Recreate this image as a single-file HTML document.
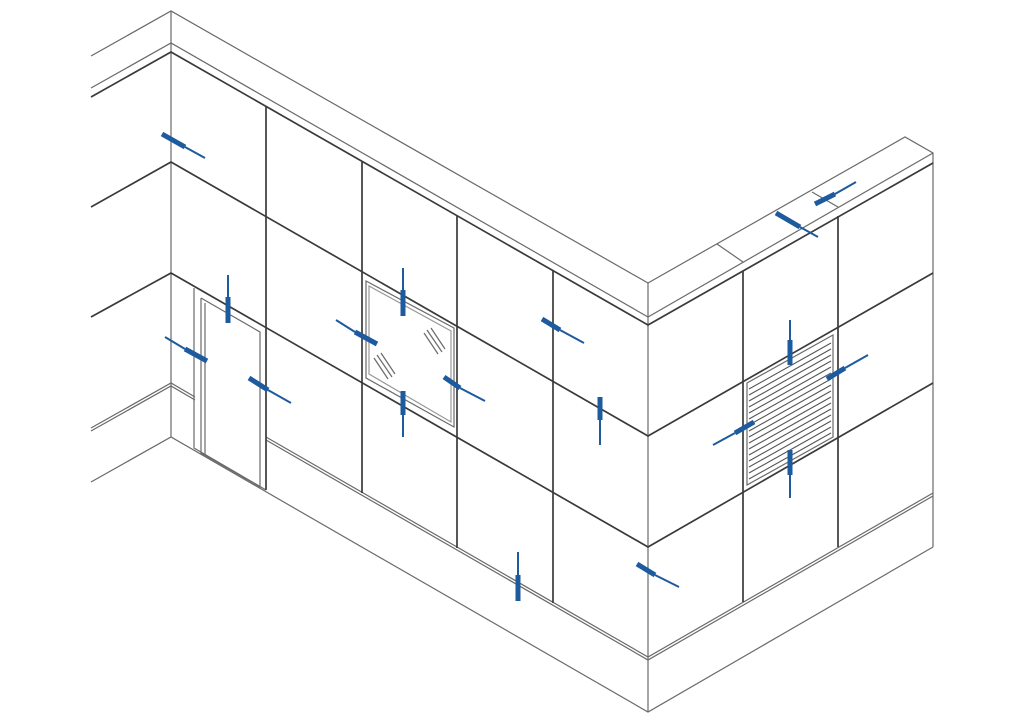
<!DOCTYPE html>
<html><head><meta charset="utf-8"><style>html,body{margin:0;padding:0;background:#fff}svg{display:block}</style></head>
<body>
<svg width="1024" height="722" viewBox="0 0 1024 722" xmlns="http://www.w3.org/2000/svg" fill="none" stroke-linecap="butt">
<g stroke="#6a6a6a" stroke-width="1.2">
  <polyline points="91,56 171,11 648,283"/>
  <polyline points="91,88 171,43 648,317"/>
  <polyline points="648,283 905,137 933,153 933,547"/>
  <line x1="648" y1="317" x2="933" y2="153"/>
  <line x1="717" y1="244" x2="743" y2="262"/>
  <line x1="812" y1="192" x2="838" y2="207"/>
  <line x1="171" y1="11" x2="171" y2="437"/>
  <line x1="648" y1="283" x2="648" y2="712"/>
  <polyline points="91,482 171,437 648,712 933,547"/>
  <polyline points="91,428 171,383 195,397"/>
  <polyline points="91,431 171,386 195,400"/>
  <polyline points="266,437 648,657 933,493"/>
  <polyline points="266,440 648,660 933,496"/>
  <polyline points="194,288 194,448 266,490"/>
  <polyline points="201,298 260,332 260,487 201,453 201,298"/>
  <line x1="205" y1="303" x2="205" y2="455"/>
  <polygon points="366,281 454,328 454,427 366,378"/>
  <polygon points="369,286 451,331 451,422 369,374" stroke="#999"/>
  <line x1="427" y1="330" x2="442" y2="352"/><line x1="431" y1="328" x2="445" y2="349"/><line x1="424" y1="333" x2="438" y2="354"/>
  <line x1="377" y1="355" x2="392" y2="377"/><line x1="381" y1="353" x2="395" y2="374"/><line x1="374" y1="358" x2="388" y2="379"/>
  <polygon points="747,383 833,335 833,437 747,485"/>
</g>
<g stroke="#555" stroke-width="1.1">
  <line x1="749" y1="389" x2="831" y2="343"/><line x1="749" y1="395" x2="831" y2="349"/>
  <line x1="749" y1="401" x2="831" y2="355"/><line x1="749" y1="407" x2="831" y2="361"/>
  <line x1="749" y1="413" x2="831" y2="367"/><line x1="749" y1="419" x2="831" y2="373"/>
  <line x1="749" y1="425" x2="831" y2="379"/><line x1="749" y1="431" x2="831" y2="385"/>
  <line x1="749" y1="437" x2="831" y2="391"/><line x1="749" y1="443" x2="831" y2="397"/>
  <line x1="749" y1="449" x2="831" y2="403"/><line x1="749" y1="455" x2="831" y2="409"/>
  <line x1="749" y1="461" x2="831" y2="415"/><line x1="749" y1="467" x2="831" y2="421"/>
  <line x1="749" y1="473" x2="831" y2="427"/><line x1="749" y1="479" x2="831" y2="433"/>
</g>
<g stroke="#3a3a3a" stroke-width="1.7">
  <polyline points="91,97 171,52 648,325 933,163"/>
  <polyline points="91,207 171,162 648,436 933,273"/>
  <polyline points="91,317 171,273 648,547 933,383"/>
  <line x1="266" y1="107" x2="266" y2="490"/>
  <line x1="362" y1="162" x2="362" y2="493"/>
  <line x1="457" y1="216" x2="457" y2="548"/>
  <line x1="553" y1="271" x2="553" y2="603"/>
  <line x1="743" y1="271" x2="743" y2="602"/>
  <line x1="838" y1="216" x2="838" y2="547"/>
</g>
<g stroke="#1d5a9e">
  <g stroke-width="2">
    <line x1="185" y1="147" x2="205" y2="158"/>
    <line x1="228" y1="275" x2="228" y2="297"/>
    <line x1="165" y1="337" x2="185" y2="349"/>
    <line x1="268" y1="390" x2="291" y2="403"/>
    <line x1="336" y1="320" x2="355" y2="332"/>
    <line x1="403" y1="268" x2="403" y2="290"/>
    <line x1="403" y1="415" x2="403" y2="437"/>
    <line x1="460" y1="388" x2="485" y2="401"/>
    <line x1="560" y1="330" x2="584" y2="343"/>
    <line x1="600" y1="420" x2="600" y2="445"/>
    <line x1="518" y1="552" x2="518" y2="575"/>
    <line x1="655" y1="575" x2="679" y2="587"/>
    <line x1="800" y1="227" x2="818" y2="237"/>
    <line x1="856" y1="182" x2="835" y2="194"/>
    <line x1="790" y1="320" x2="790" y2="340"/>
    <line x1="868" y1="355" x2="845" y2="368"/>
    <line x1="713" y1="445" x2="735" y2="433"/>
    <line x1="790" y1="475" x2="790" y2="498"/>
  </g>
  <g stroke-width="5">
    <line x1="162" y1="134" x2="185" y2="147"/>
    <line x1="228" y1="297" x2="228" y2="323"/>
    <line x1="185" y1="349" x2="207" y2="361"/>
    <line x1="249" y1="378" x2="268" y2="390"/>
    <line x1="355" y1="332" x2="377" y2="344"/>
    <line x1="403" y1="290" x2="403" y2="316"/>
    <line x1="403" y1="391" x2="403" y2="415"/>
    <line x1="444" y1="377" x2="460" y2="388"/>
    <line x1="542" y1="319" x2="560" y2="330"/>
    <line x1="600" y1="397" x2="600" y2="420"/>
    <line x1="518" y1="575" x2="518" y2="601"/>
    <line x1="637" y1="564" x2="655" y2="575"/>
    <line x1="776" y1="213" x2="800" y2="227"/>
    <line x1="835" y1="194" x2="815" y2="204"/>
    <line x1="790" y1="340" x2="790" y2="365"/>
    <line x1="845" y1="368" x2="827" y2="379"/>
    <line x1="735" y1="433" x2="754" y2="422"/>
    <line x1="790" y1="450" x2="790" y2="475"/>
  </g>
</g>
</svg>
</body></html>
